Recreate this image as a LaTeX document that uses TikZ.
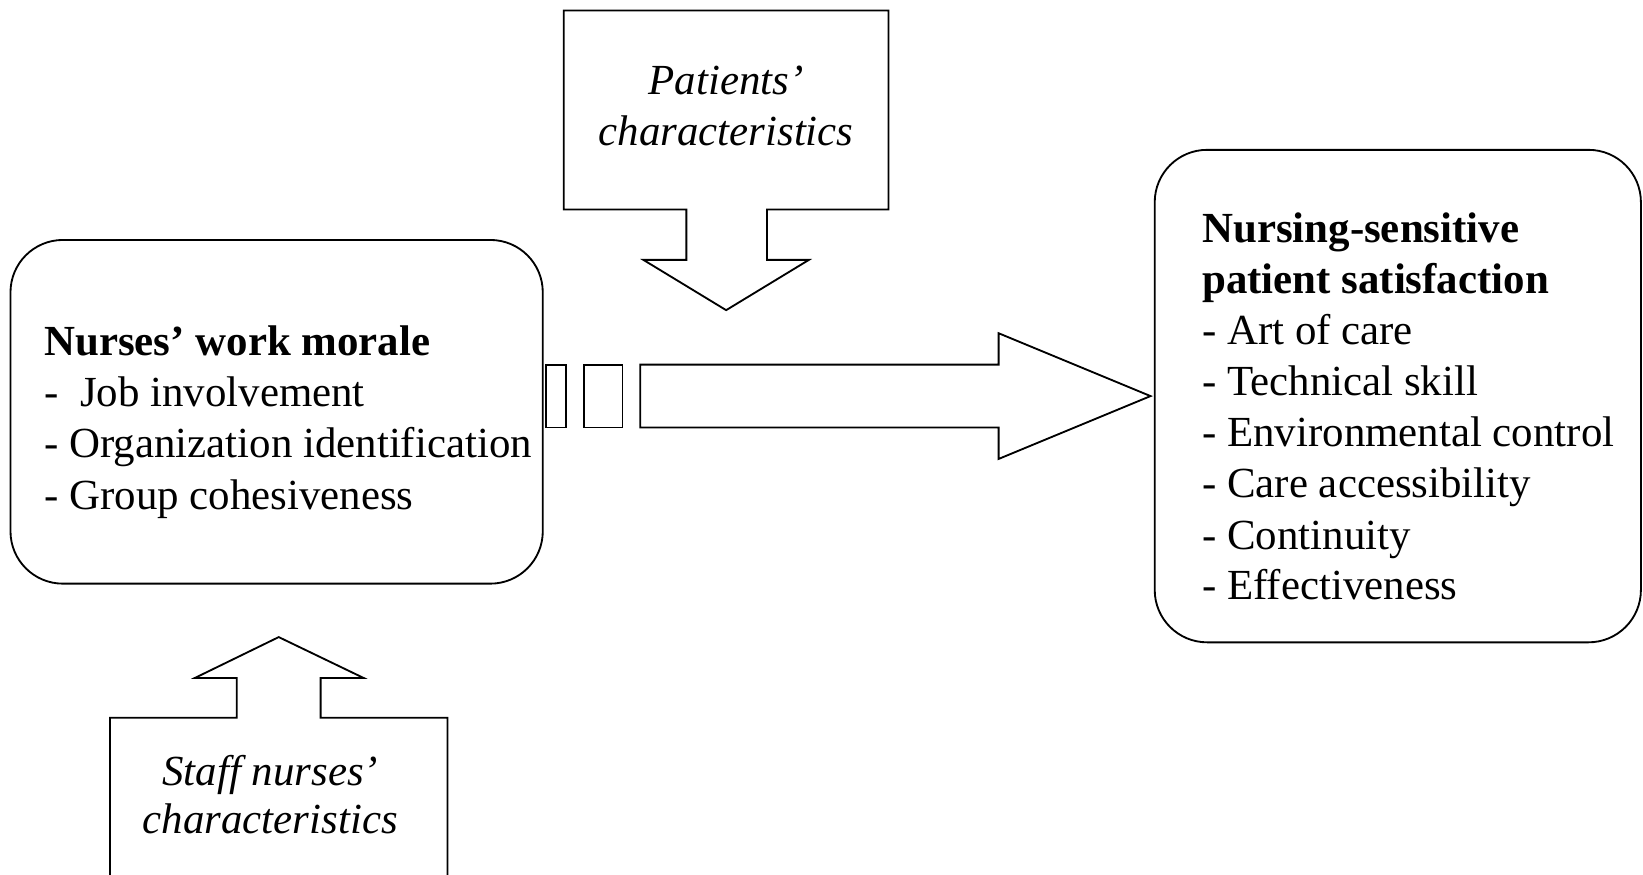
\documentclass[tikz,border=0pt]{standalone}
\usepackage{fontspec}
\setmainfont{Liberation Serif}
\tikzset{
  box/.style={line width=1pt, rounded corners=1cm},
  blockshape/.style={line width=1pt, line join=miter},
  txt/.style={anchor=base west, inner sep=0pt, font=\fontsize{23.3}{28}\selectfont},
  itxt/.style={anchor=base, inner sep=0pt, font=\fontsize{23.3}{28}\selectfont\itshape},
}
\begin{document}
\begin{tikzpicture}[x=0.02cm, y=-0.02cm]
      \useasboundingbox (0,0) rectangle (1568,835);

      % the two boxes
      \draw[box] (10,229) rectangle (518,557);
      \draw[box] (1102,143) rectangle (1566,613);

      % striped arrow
      \draw[blockshape] (521,348) rectangle (540,408);
      \draw[blockshape] (557,348) rectangle (594,408);
      \draw[blockshape] (611,348)--(953,348)--(953,318)--(1098,378)--(953,438)--(953,408)--(611,408)--cycle;

      % callouts
      \draw[blockshape] (538,10)--(848,10)--(848,200)--(732,200)--(732,248)--(772,248)--(693,296)
            --(614,248)--(655,248)--(655,200)--(538,200)--cycle;
      \draw[blockshape] (105,850)--(105,685)--(226,685)--(226,647)--(186,647)--(266,608)--(347,647)
            --(306,647)--(306,685)--(427,685)--(427,850);

      \node[txt] (m1) at (42,339) {\bfseries Nurses’ work morale};
      \node[txt] (m2) at (42,388) {-~ Job involvement};
      \node[txt] (m3) at (42,437) {- Organization identification};
      \node[txt] (m4) at (42,486) {- Group cohesiveness};

      \node[txt] (s1) at (1147,231) {\bfseries Nursing-sensitive};
      \node[txt] (s2) at (1147,280) {\bfseries patient satisfaction};
      \node[txt] (s3) at (1147,329) {- Art of care};
      \node[txt] (s4) at (1147,377) {- Technical skill};
      \node[txt] (s5) at (1147,426) {- Environmental control};
      \node[txt] (s6) at (1147,475) {- Care accessibility};
      \node[txt] (s7) at (1147,524) {- Continuity};
      \node[txt] (s8) at (1147,572) {- Effectiveness};

      \node[itxt] (p1) at (693,90) {Patients’};
      \node[itxt] (p2) at (693,139) {characteristics};
      \node[itxt] (n1) at (258,750) {Staff nurses’};
      \node[itxt] (n2) at (258,795) {characteristics};
    \end{tikzpicture}
\end{document}
